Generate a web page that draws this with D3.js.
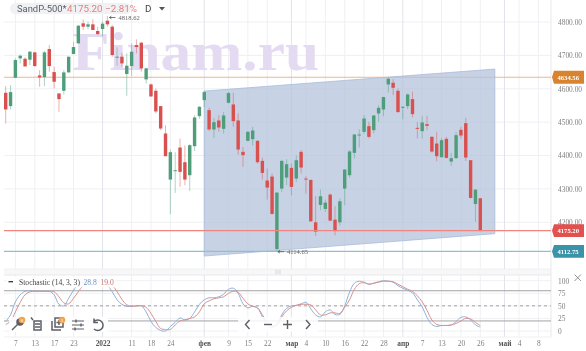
<!DOCTYPE html>
<html><head><meta charset="utf-8">
<script src="https://cdn.jsdelivr.net/npm/d3@7/dist/d3.min.js"></script>
<style>
html,body{margin:0;padding:0;background:#fff;overflow:hidden}
svg{display:block;filter:blur(0.45px)}
text{font-family:"Liberation Serif",serif}
</style></head><body>
<svg id="c" width="586" height="351"></svg>
<script>
const opens=[4588,4548,4633,4691,4690,4687,4709,4640,4635,4719,4650,4586,4594,4649,4704,4736,4796,4786,4793,4773,4779,4804,4786,4694,4696,4644,4668,4731,4738,4628,4613,4594,4548,4466,4328,4354,4424,4380,4341,4428,4518,4566,4536,4478,4505,4480,4558,4553,4505,4411,4444,4449,4444,4384,4325,4337,4120,4301,4334,4363,4331,4411,4331,4327,4200,4252,4240,4283,4208,4200,4301,4341,4408,4460,4471,4488,4476,4526,4538,4613,4618,4594,4544,4548,4569,4483,4473,4494,4456,4436,4395,4450,4382,4392,4477,4497,4386,4255,4272];
const highs=[4608,4611,4691,4703,4694,4713,4711,4656,4714,4731,4666,4586,4656,4696,4741,4791,4808,4801,4808,4786,4801,4818,4791,4724,4708,4706,4736,4748,4741,4663,4616,4601,4548,4491,4418,4410,4451,4430,4434,4521,4548,4594,4543,4512,4521,4531,4591,4588,4526,4426,4473,4486,4446,4394,4361,4346,4291,4386,4389,4376,4401,4416,4338,4328,4278,4298,4268,4286,4248,4271,4359,4416,4464,4479,4521,4501,4521,4551,4576,4634,4629,4601,4548,4586,4591,4501,4519,4519,4458,4471,4453,4456,4408,4471,4486,4513,4386,4298,4273];
const lows=[4496,4538,4633,4676,4666,4671,4666,4606,4608,4651,4601,4531,4583,4649,4704,4736,4776,4778,4776,4761,4756,4786,4696,4669,4666,4579,4638,4706,4651,4616,4576,4526,4476,4398,4224,4288,4306,4311,4294,4414,4510,4544,4474,4453,4471,4466,4556,4486,4403,4366,4443,4430,4376,4328,4268,4223,4115,4291,4311,4281,4321,4346,4286,4201,4159,4236,4231,4203,4161,4190,4251,4334,4391,4424,4466,4451,4466,4501,4518,4589,4581,4529,4508,4539,4514,4451,4451,4476,4409,4383,4394,4391,4369,4391,4451,4384,4271,4201,4175];
const closes=[4538,4590,4686,4699,4667,4711,4668,4634,4709,4668,4621,4569,4649,4696,4725,4789,4786,4793,4776,4764,4795,4793,4701,4696,4676,4669,4711,4725,4661,4661,4577,4532,4481,4398,4410,4356,4351,4328,4431,4514,4546,4590,4478,4500,4484,4520,4587,4503,4418,4401,4471,4475,4380,4348,4304,4225,4289,4384,4374,4306,4386,4364,4328,4203,4172,4278,4259,4205,4174,4263,4358,4412,4463,4463,4511,4456,4520,4543,4575,4630,4603,4530,4546,4583,4524,4480,4499,4489,4412,4398,4446,4393,4392,4461,4460,4394,4273,4298,4175.20];
const kValues=[19,32,58,72,79,80,79,79,79,79,72,53,50,65,81,93,98,99,99,98,98,91,78,62,53,49,49,50,50,38,19,7,1,0,9,17,26,22,25,38,53,62,66,66,68,73,83,85,75,54,46,49,46,28,12,7,13,32,45,50,51,54,57,44,32,28,38,42,33,33,50,77,95,99,97,93,95,98,100,99,97,90,85,81,76,62,48,27,13,9,11,11,12,19,27,28,22,12,8];
const dValues=[13,19,38,57,72,78,79,79,79,79,78,68,56,54,65,78,90,95,98,99,99,98,91,78,63,52,49,50,50,47,35,19,5,3,3,12,20,22,25,28,38,54,60,64,66,68,75,79,77,65,54,49,46,32,19,11,12,28,40,47,51,53,53,52,42,32,32,36,36,35,47,62,83,94,96,93,95,97,99,99,98,93,88,83,79,70,58,41,22,13,11,11,12,15,20,25,24,17,11];
const xTickIndex=[2,6,10,14,20,26,30,34,41,46,50,54,59,62,66,70,74,78,82,86,90,94,98,103,106,110];
const xTickLabels=["7","13","17","23","2022","11","18","24","фев","9","15","22","мар","4","10","16","22","28","апр","7","13","20","26","май","4","8"];
const majorLabels=["2022","фев","мар","апр","май"];
const priceTicks=[4800,4700,4600,4500,4400,4300,4200];
const stochTicks=[100,75,50,25,0];
const channelIdx=[41,101,101,41];
const channelPrice=[4593,4659,4166,4099];
const priceLevels=[4634.56,4175.20,4112.75];
const levelLine=["#f2b48a","#f0847e","#8cc2cf"];
const levelTag=["#d9832e","#e0514f","#3a93a9"];

const svg=d3.select("#c");
const left=4,right=551;
const x=d3.scaleLinear().domain([0,98]).range([5.7,480.3]);
const y=d3.scaleLinear().domain([4800,4200]).range([22,222.3]);
const s=d3.scaleLinear().domain([100,0]).range([280.7,331]);
const grid="#eff0f3";

// separator band
svg.append("rect").attr("x",left).attr("y",269).attr("width",right-left).attr("height",6).attr("fill","#f7f7f8");
svg.append("rect").attr("x",275).attr("y",269.5).attr("width",6).attr("height",5).attr("fill","#e6e8ec");

// grids
svg.selectAll(".h1").data(priceTicks).join("line").attr("x1",left).attr("x2",right).attr("y1",d=>y(d)).attr("y2",d=>y(d)).attr("stroke",grid);
svg.append("line").attr("x1",left).attr("x2",right).attr("y1",269).attr("y2",269).attr("stroke",grid);
svg.selectAll(".h2").data(stochTicks).join("line").attr("x1",left).attr("x2",right).attr("y1",d=>s(d)).attr("y2",d=>s(d)).attr("stroke",grid);
[[0,269],[275,337]].forEach(([a,b])=>{
  svg.selectAll(null).data(xTickIndex).join("line")
    .attr("x1",d=>x(d)).attr("x2",d=>x(d)).attr("y1",a).attr("y2",b)
    .attr("stroke",(d,i)=>majorLabels.includes(xTickLabels[i])?"#e2e4e9":grid);
});
svg.append("line").attr("x1",right).attr("x2",right).attr("y1",0).attr("y2",337).attr("stroke","#e8e9ed");
svg.append("line").attr("x1",left).attr("x2",right).attr("y1",275).attr("y2",275).attr("stroke","#e8e9ed");
svg.append("line").attr("x1",left).attr("x2",right).attr("y1",337).attr("y2",337).attr("stroke","#eff0f3");

// watermark
svg.append("text").attr("x",72).attr("y",70).text("Finam.ru")
  .attr("font-size",54).attr("font-weight",700).attr("textLength",247).attr("lengthAdjust","spacingAndGlyphs").attr("fill","#e4dbf2")
  .style("font-family","'Liberation Serif',serif");

// orange level under channel
svg.append("line").attr("x1",left).attr("x2",right).attr("y1",y(priceLevels[0])).attr("y2",y(priceLevels[0])).attr("stroke",levelLine[0]).attr("stroke-width",1.2);

// channel
svg.append("polygon")
  .attr("points",channelIdx.map((d,i)=>[x(d),y(channelPrice[i])].join(",")).join(" "))
  .attr("fill","#b4c3dc").attr("fill-opacity",.75).attr("stroke","#a9bcda").attr("stroke-width",.8);

// candles
const up="#4e9d7b",down="#d9504e";
const idx=d3.range(opens.length);
svg.selectAll(".w").data(idx).join("line")
  .attr("x1",i=>x(i)).attr("x2",i=>x(i)).attr("y1",i=>y(highs[i])).attr("y2",i=>y(lows[i]))
  .attr("stroke",i=>closes[i]>=opens[i]?up:down).attr("stroke-opacity",.45).attr("stroke-width",1);
svg.selectAll(".b").data(idx).join("rect")
  .attr("x",i=>x(i)-1.7).attr("width",3.4)
  .attr("y",i=>y(Math.max(opens[i],closes[i])))
  .attr("height",i=>Math.max(1,Math.abs(y(opens[i])-y(closes[i]))))
  .attr("fill",i=>closes[i]>=opens[i]?up:down);

// other levels
[1,2].forEach(k=>svg.append("line").attr("x1",left).attr("x2",right).attr("y1",y(priceLevels[k])).attr("y2",y(priceLevels[k])).attr("stroke",levelLine[k]).attr("stroke-width",1.2));

// axes
const yAxis=d3.axisRight(y).tickValues(priceTicks).tickSize(0).tickPadding(0).tickFormat(d3.format(".2f"));
const yG=svg.append("g").attr("transform","translate(558,0)").call(yAxis);
yG.select(".domain").remove();
yG.selectAll("text").attr("font-size",7.4).attr("fill","#808080").style("font-family","'Liberation Serif',serif");
const sAxis=d3.axisRight(s).tickValues(stochTicks).tickSize(0).tickPadding(0);
const sG=svg.append("g").attr("transform","translate(558,0)").call(sAxis);
sG.select(".domain").remove();
sG.selectAll("text").attr("font-size",7.4).attr("fill","#808080").style("font-family","'Liberation Serif',serif");
const xAxis=d3.axisBottom(x).tickValues(xTickIndex).tickSize(0).tickPadding(0).tickFormat((d,i)=>xTickLabels[i]);
const xG=svg.append("g").attr("transform","translate(0,340.5)").call(xAxis);
xG.select(".domain").remove();
xG.selectAll("text").attr("font-size",7.4).attr("fill",(d,i)=>majorLabels.includes(xTickLabels[i])?"#555":"#808080")
  .attr("font-weight",(d,i)=>majorLabels.includes(xTickLabels[i])?700:400).style("font-family","'Liberation Serif',serif");

// price tags (drawn after the axis: the 4200 tick sits half behind the red tag)
priceLevels.forEach((p,k)=>{
  const c=y(p);
  svg.append("path").attr("d",`M552 ${c}L554 ${c-6.4}H584V${c+6.4}H554Z`).attr("fill",levelTag[k]);
  svg.append("text").attr("x",557.5).attr("y",c+2.4).text(p.toFixed(2)).attr("font-size",6.6).attr("font-weight",700).attr("fill","#fff");
});

// stochastic levels
[[80,""],[50,"3 3"],[20,""]].forEach(([v,dash])=>svg.append("line").attr("x1",left).attr("x2",right).attr("y1",s(v)).attr("y2",s(v))
  .attr("stroke","#a2a2a4").attr("stroke-width",1).attr("stroke-dasharray",dash));
const ln=vals=>d3.line().x((d,i)=>x(i)).y(d=>s(d)).curve(d3.curveCatmullRom)(vals);
svg.append("path").attr("d",ln(kValues)).attr("fill","none").attr("stroke","#8db0da").attr("stroke-width",1);
svg.append("path").attr("d",ln(dValues)).attr("fill","none").attr("stroke","#d8918c").attr("stroke-width",1);

// toolbar overlay
svg.append("rect").attr("x",9).attr("y",317).attr("width",99).attr("height",15).attr("fill","#fff").attr("fill-opacity",.9);
svg.append("rect").attr("x",238).attr("y",317).attr("width",80).attr("height",15).attr("fill","#fff").attr("fill-opacity",.85);
const icon="#5c5f66";
const ic=svg.append("g").attr("fill","none").attr("stroke",icon).attr("stroke-width",1.5);
ic.append("path").attr("d","M12 330L18 324");ic.append("circle").attr("cx",20).attr("cy",322).attr("r",3).attr("fill",icon);
ic.append("path").attr("d","M34 321H41V330H34ZM35 324H40M35 327H40M31 317.5L33 320");
ic.append("path").attr("d","M52 321V330H61M55 318H63V327H55ZM59 320V325M56.5 322.5H61.5");
ic.append("path").attr("d","M72 321H84M72 325H84M72 329H84").attr("stroke-width",1);
ic.append("path").attr("d","M76 319.5V322.5M81 323.5V326.5M75 327.5V330.5").attr("stroke-width",1.4);
ic.append("path").attr("d","M94 321.5A5.3 5.3 0 1 1 94 329M94 318.5V322.5H98");
const nav=svg.append("g").attr("fill","none").attr("stroke",icon).attr("stroke-width",1.4);
nav.append("path").attr("d","M249.5 320L245.5 324.5L249.5 329");
nav.append("path").attr("d","M264 324.5H272");
nav.append("path").attr("d","M283 324.5H292M287.5 320V329");
nav.append("path").attr("d","M306 320L310 324.5L306 329");
[[22,320,"0"],[62,320,"1"]].forEach(([cx,cy,t])=>{
  svg.append("circle").attr("cx",cx).attr("cy",cy).attr("r",3.3).attr("fill","#f0a350");
  svg.append("text").attr("x",cx).attr("y",cy+1.8).attr("text-anchor","middle").attr("font-size",5).attr("fill","#fff").text(t);
});

// legend
svg.append("rect").attr("x",6).attr("y",276.5).attr("width",109).attr("height",11).attr("fill","#fff").attr("fill-opacity",.9);
svg.append("line").attr("x1",8.5).attr("x2",13).attr("y1",281.7).attr("y2",281.7).attr("stroke","#333").attr("stroke-width",1.3);
const leg=(t,xx,c)=>svg.append("text").attr("x",xx).attr("y",284.5).attr("font-size",7.6).attr("fill",c).text(t);
leg("Stochastic (14, 3, 3)",19,"#444");
leg("28.8",83.5,"#6e93c6");
leg("19.0",100.5,"#c7746e");

// close cross
svg.append("path").attr("d","M574.5 274.5L581 281M581 274.5L574.5 281").attr("stroke","#888").attr("stroke-width",.9).attr("fill","none");

// header pill
svg.append("rect").attr("x",10).attr("y",3).attr("width",121).attr("height",11).attr("rx",5.5).attr("fill","#f0f1f4");
const head=(t,xx,fs,c)=>svg.append("text").attr("x",xx).attr("y",12).attr("font-size",fs).attr("fill",c).style("font-family","Roboto,sans-serif").text(t);
head("SandP-500*",17,9.4,"#5a5d64");
head("4175.20 −2.81%",67,9.8,"#e0837b");
head("D",145,9.8,"#444");
svg.append("path").attr("d","M159 7H165L162 10.5Z").attr("fill","#555");

// annotations
const note=(xx,yy,t)=>{
  svg.append("path").attr("d",`M${xx} ${yy}h6M${xx} ${yy}l2 -1.4M${xx} ${yy}l2 1.4`).attr("stroke","#555").attr("stroke-width",.8).attr("fill","none");
  svg.append("text").attr("x",xx+9).attr("y",yy+2.4).attr("font-size",6.6).attr("fill","#666").text(t);
};
note(x(21)+2,17.5,"4818.62");
note(x(56)+1,y(4115)+1,"4114.65");
</script>
</body></html>
